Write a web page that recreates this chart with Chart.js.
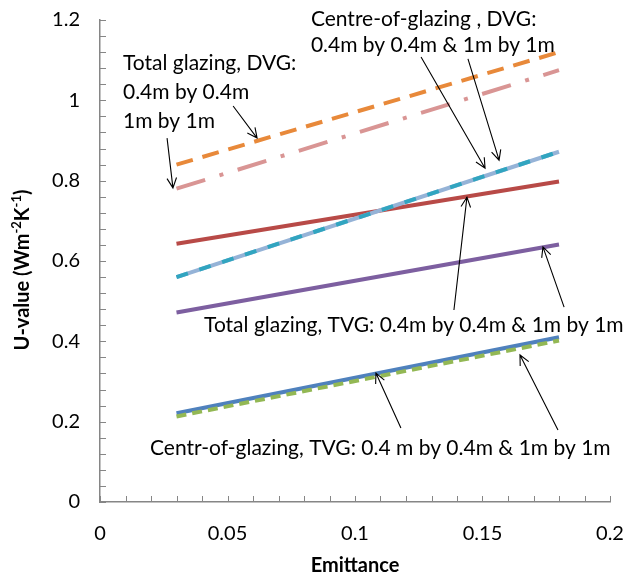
<!DOCTYPE html>
<html>
<head>
<meta charset="utf-8">
<script src="https://cdn.jsdelivr.net/npm/chart.js@4/dist/chart.umd.min.js"></script>
<style>
  html,body{margin:0;padding:0;background:#fff;}
  #wrap{width:626px;height:580px;position:relative;}
</style>
</head>
<body>
<div id="wrap"><canvas id="chart" width="626" height="580"></canvas></div>
<script>
// emittance end points of every curve
const emittance = [0.03, 0.18];

// U-values (W m-2 K-1)
const totalDvg04 = [0.84, 1.12];
const totalDvg1 = [0.78, 1.075];
const centreDvg04 = [0.56, 0.872];
const centreDvg1 = [0.56, 0.872];
const totalTvg04 = [0.643, 0.798];
const totalTvg1 = [0.472, 0.641];
const centreTvg04 = [0.221, 0.41];
const centreTvg1 = [0.213, 0.402];

const xTicks = [0, 0.05, 0.1, 0.15, 0.2];
const yTicks = [0, 0.2, 0.4, 0.6, 0.8, 1, 1.2];

const FONT = "Lato, 'Open Sans', sans-serif";
const AXIS = "#868686";

function pts(ys){ return emittance.map((x,i)=>({x, y:ys[i]})); }

function series(data, color, dash, order){
  return {
    data: pts(data), showLine:true, borderColor:color, backgroundColor:color,
    borderWidth:4, borderDash:dash||[], pointRadius:0, order, borderCapStyle:"butt"
  };
}

// labels + arrows, in data units (x = emittance, y = U-value)
const notes = [
  {lines:["Total glazing, DVG:", "0.4m by 0.4m", "1m by 1m"], x:0.0090, y:[1.093, 1.019, 0.949]},
  {lines:["Centre-of-glazing , DVG:", "0.4m by 0.4m & 1m by 1m"], x:0.0827, y:[1.202, 1.138]},
  {lines:["Total glazing, TVG: 0.4m by 0.4m & 1m by 1m"], x:0.0408, y:[0.441]},
  {lines:["Centr-of-glazing, TVG: 0.4 m by 0.4m & 1m by 1m"], x:0.0196, y:[0.134]}
];
const arrows = [
  [0.0522, 0.986, 0.0616, 0.906],
  [0.0263, 0.906, 0.0286, 0.782],
  [0.1259, 1.108, 0.1510, 0.831],
  [0.1443, 1.103, 0.1565, 0.851],
  [0.1388, 0.478, 0.1439, 0.759],
  [0.1820, 0.485, 0.1737, 0.635],
  [0.1180, 0.184, 0.1082, 0.321],
  [0.1796, 0.179, 0.1647, 0.366]
];

const extras = {
  id:"extras",
  afterDraw(chart){
    const {ctx, scales:{x, y}, chartArea:a} = chart;
    ctx.save();
    // minor ticks pointing into the plot
    ctx.strokeStyle = AXIS; ctx.lineWidth = 1;
    ctx.beginPath();
    for (let i=0;i<=30;i++){
      const py = Math.round(y.getPixelForValue(i*0.04))+0.5;
      ctx.moveTo(a.left, py); ctx.lineTo(a.left+6, py);
    }
    for (let i=0;i<=20;i++){
      const px = Math.round(x.getPixelForValue(i*0.01))+0.5;
      ctx.moveTo(px, a.bottom); ctx.lineTo(px, a.bottom-6);
    }
    ctx.stroke();

    // arrows
    ctx.strokeStyle = "#000"; ctx.lineWidth = 1.1;
    arrows.forEach(([x0,y0,x1,y1])=>{
      const ax = x.getPixelForValue(x0), ay = y.getPixelForValue(y0);
      const bx = x.getPixelForValue(x1), by = y.getPixelForValue(y1);
      const ang = Math.atan2(by-ay, bx-ax), h = 11;
      ctx.beginPath();
      ctx.moveTo(ax, ay); ctx.lineTo(bx, by);
      ctx.moveTo(bx - h*Math.cos(ang-0.45), by - h*Math.sin(ang-0.45));
      ctx.lineTo(bx, by);
      ctx.lineTo(bx - h*Math.cos(ang+0.45), by - h*Math.sin(ang+0.45));
      ctx.stroke();
    });

    // annotation text
    ctx.fillStyle = "#000";
    ctx.font = "21px " + FONT;
    ctx.textBaseline = "middle"; ctx.textAlign = "left";
    notes.forEach(n=>{
      n.lines.forEach((t,i)=>ctx.fillText(t, x.getPixelForValue(n.x), y.getPixelForValue(n.y[i])));
    });

    // axis titles
    ctx.font = "bold 20px " + FONT;
    ctx.textAlign = "center";
    ctx.fillText("Emittance", (a.left+a.right)/2, 566);

    ctx.translate(23, 270);
    ctx.rotate(-Math.PI/2);
    const parts = [["U-value (Wm",0],["-2",1],["K",0],["-1",1],[")",0]];
    const big = "bold 20px " + FONT, small = "bold 13px " + FONT;
    let total = 0;
    parts.forEach(([t,s])=>{ ctx.font = s?small:big; total += ctx.measureText(t).width; });
    let cx = -total/2;
    ctx.textAlign = "left";
    parts.forEach(([t,s])=>{
      ctx.font = s?small:big;
      ctx.fillText(t, cx, s ? -6 : 0);
      cx += ctx.measureText(t).width;
    });
    ctx.restore();
  }
};

new Chart(document.getElementById("chart"), {
  type:"scatter",
  data:{
    datasets:[
      series(totalDvg04, "#E8893A", [17,10], 1),
      series(totalDvg1, "#D99594", [30,15,4,15], 2),
      series(centreDvg1, "#31A5C0", [12,12], 3),
      series(centreDvg04, "#95B3D7", [], 4),
      series(totalTvg04, "#B84A47", [], 5),
      series(totalTvg1, "#7D5FA0", [], 6),
      series(centreTvg1, "#93B854", [10,6], 7),
      series(centreTvg04, "#4F81BD", [], 8)
    ]
  },
  options:{
    responsive:false, animation:false,
    layout:{ padding:{ top:20, right:16, left:0, bottom:0 } },
    plugins:{ legend:{ display:false }, tooltip:{ enabled:false } },
    scales:{
      x:{
        type:"linear", min:0, max:0.2,
        afterBuildTicks:(s)=>{ s.ticks = xTicks.map(v=>({value:v})); },
        afterFit:(s)=>{ s.height = 78; s.paddingLeft = 0; s.paddingRight = 0; },
        border:{ color:AXIS, width:1.5 },
        grid:{ display:false, drawTicks:false },
        ticks:{ padding:20, color:"#000", font:{ family:FONT, size:20 }, maxRotation:0,
          callback:(v)=>String(+v.toFixed(2)) }
      },
      y:{
        min:0, max:1.2,
        afterBuildTicks:(s)=>{ s.ticks = yTicks.map(v=>({value:v})); },
        afterFit:(s)=>{ s.width = 100; s.paddingTop = 0; s.paddingBottom = 0; },
        border:{ color:AXIS, width:1.5 },
        grid:{ display:false, drawTicks:false },
        ticks:{ padding:20, color:"#000", font:{ family:FONT, size:20 },
          callback:(v)=>String(+v.toFixed(2)) }
      }
    }
  },
  plugins:[extras]
});
</script>
</body>
</html>
